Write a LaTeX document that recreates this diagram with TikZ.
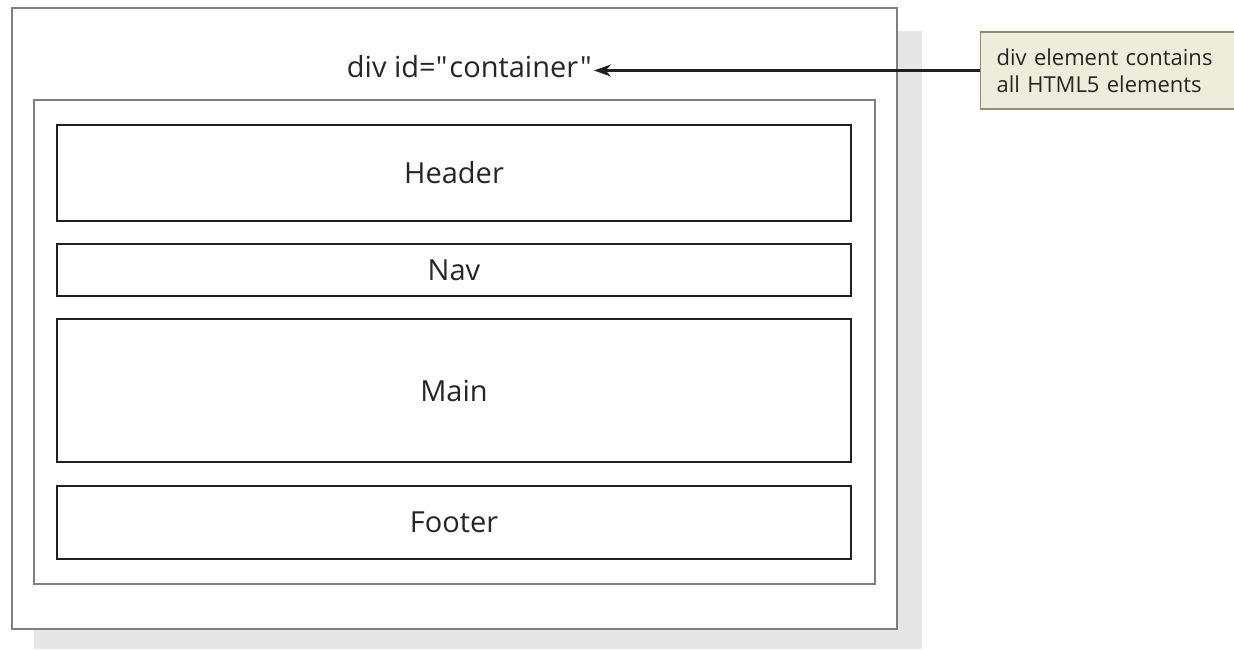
\documentclass[tikz,border=0pt]{standalone}
\usepackage{fontspec}
\newfontfamily\diagramfont{Open Sans}
\usetikzlibrary{arrows.meta}

\definecolor{framegray}{HTML}{7F7F7F}
\definecolor{shadowgray}{HTML}{E6E6E6}
\definecolor{boxdark}{HTML}{231F20}
\definecolor{notefill}{HTML}{EEECDA}
\definecolor{noteline}{HTML}{8E8E78}

\begin{document}
\begin{tikzpicture}[
      x=1pt, y=-1pt,
      every node/.style={text=black!85, font=\diagramfont\fontsize{29}{34}\selectfont},
      region/.style={draw=boxdark, line width=2.8pt, minimum width=794pt},
      frame/.style={draw=framegray, line width=1.3pt}
    ]
    \useasboundingbox (0,0) rectangle (1234,649);

    % sombra e caixas externas
    \fill[shadowgray] (34,31) rectangle (922,649);
    \node[frame, fill=white, minimum width=885pt, minimum height=621pt] (outer) at (454.5,318.5) {};
    \node[frame, minimum width=841pt, minimum height=484pt] (inner) at (454.5,342) {};

    % elementos HTML5
    \node[region, minimum height=96pt]  (header) at (454,173)   {Header};
    \node[region, minimum height=52pt]  (nav)    at (454,270)   {Nav};
    \node[region, minimum height=143pt] (main)   at (454,390.5) {Main};
    \node[region, minimum height=73pt]  (footer) at (454,522.5) {Footer};

    \node[anchor=base east, inner sep=2pt] (container) at (594,77) {div id="\kern2pt container\kern2pt"};

    \node[anchor=west, draw=noteline, fill=notefill, line width=1.2pt,
          minimum height=77pt, text width=234pt, inner xsep=16pt, align=left,
          font=\diagramfont\fontsize{22}{27}\selectfont] (note) at (980,70.5)
          {div element contains\\all HTML5 elements};

    \draw[-{Stealth[length=17pt, width=12pt]}, boxdark, line width=2.6pt]
      (note.west) -- (note.west -| container.east);

  \end{tikzpicture}
\end{document}
